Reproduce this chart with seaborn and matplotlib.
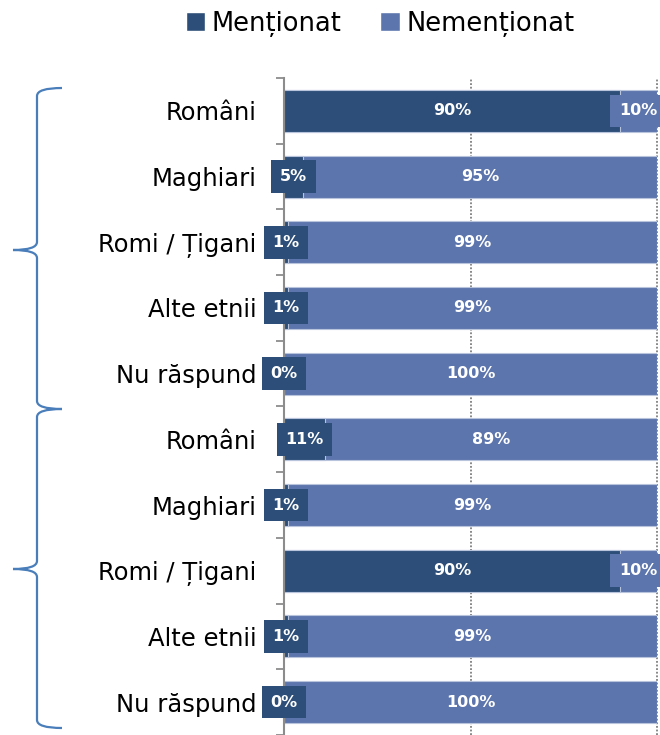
import numpy as np
import pandas as pd
import matplotlib
matplotlib.use("Agg")
import matplotlib.pyplot as plt
import seaborn as sns
from matplotlib.path import Path
from matplotlib.patches import PathPatch, Patch

categories = ["Români", "Maghiari", "Romi / Țigani", "Alte etnii", "Nu răspund",
              "Români", "Maghiari", "Romi / Țigani", "Alte etnii", "Nu răspund"]
mentionat = [90, 5, 1, 1, 0, 11, 1, 90, 1, 0]
nementionat = [10, 95, 99, 99, 100, 89, 99, 10, 99, 100]
series_names = ["Menționat", "Nemenționat"]

dark = "#2D4E78"
light = "#5D75AD"

sns.set_style("white")
plt.rcParams["font.family"] = ["DejaVu Sans"]
plt.rcParams["text.color"] = "black"

df = pd.DataFrame({
    "row": [str(i) for i in range(len(categories))],
    "ment": mentionat,
    "total": np.array(mentionat) + np.array(nementionat),
})

fig = plt.figure(figsize=(6.6, 7.35), dpi=100)
ax = fig.add_axes([284 / 660, 0, (657 - 284) / 660, (735 - 78) / 735])

sns.barplot(data=df, x="total", y="row", orient="h", color=light, width=0.64,
            edgecolor="#B8C4DC", linewidth=0.8, ax=ax, saturation=1, zorder=2)
sns.barplot(data=df, x="ment", y="row", orient="h", color=dark, width=0.64,
            edgecolor="#B8C4DC", linewidth=0.8, ax=ax, saturation=1, zorder=3)

ax.set_xlim(0, 100)
ax.set_ylim(9.45, -0.5)
ax.set_xlabel("")
ax.set_ylabel("")
ax.set_xticks([])
ax.set_yticks(range(len(categories)))
ax.set_yticklabels(categories, fontsize=17.5, color="black")
ax.set_yticks(np.arange(-0.5, 10, 1), minor=True)
ax.tick_params(axis="y", which="major", left=False, length=0, pad=20)
ax.tick_params(axis="y", which="minor", left=True, length=6, width=1.3,
               color="#8C8C8C", direction="out")
for s in ["top", "right", "bottom"]:
    ax.spines[s].set_visible(False)
ax.spines["left"].set_color("#8C8C8C")
ax.spines["left"].set_linewidth(1.5)
ax.spines["left"].set_zorder(4)
for gx in [50, 100]:
    ax.axvline(gx, color="#7F7F7F", linestyle=(0, (1, 1)), linewidth=1.3, zorder=1, clip_on=False)

# value labels
for i, (m, n) in enumerate(zip(mentionat, nementionat)):
    ax.text(m / 2, i, f"{m}%", ha="center", va="center", color="white",
            fontsize=11.5, fontweight="bold", zorder=6, clip_on=False,
            bbox=dict(boxstyle="square,pad=0.55", facecolor=dark, edgecolor="none"))
    ax.text(m + n / 2, i, f"{n}%", ha="center", va="center", color="white",
            fontsize=11.5, fontweight="bold", zorder=5, clip_on=False,
            bbox=dict(boxstyle="square,pad=0.55", facecolor=light, edgecolor="none"))

# legend
handles = [Patch(facecolor=dark), Patch(facecolor=light)]
leg = fig.legend(handles, series_names, loc="center", bbox_to_anchor=(0.576, 0.968),
                 ncol=2, frameon=False, fontsize=18.5, handlelength=0.75, handleheight=0.75,
                 handletextpad=0.25, columnspacing=1.5)
for t in leg.get_texts():
    t.set_color("black")

# curly braces
bx = fig.add_axes([0, 0, 1, 1], zorder=-1)
bx.set_xlim(0, 660)
bx.set_ylim(735, 0)
bx.axis("off")


def brace(top, mid, bottom):
    verts = [(62, top), (37, top), (37, top + 8),
             (37, mid - 8),
             (37, mid), (13, mid),
             (37, mid), (37, mid + 8),
             (37, bottom - 8),
             (37, bottom), (62, bottom)]
    codes = [Path.MOVETO, Path.CURVE3, Path.CURVE3,
             Path.LINETO,
             Path.CURVE3, Path.CURVE3,
             Path.CURVE3, Path.CURVE3,
             Path.LINETO,
             Path.CURVE3, Path.CURVE3]
    bx.add_patch(PathPatch(Path(verts, codes), facecolor="none",
                           edgecolor="#4A7EBB", linewidth=1.6))


brace(88, 250, 409)
brace(409, 569, 728)

fig.savefig("out.png", dpi=100)
